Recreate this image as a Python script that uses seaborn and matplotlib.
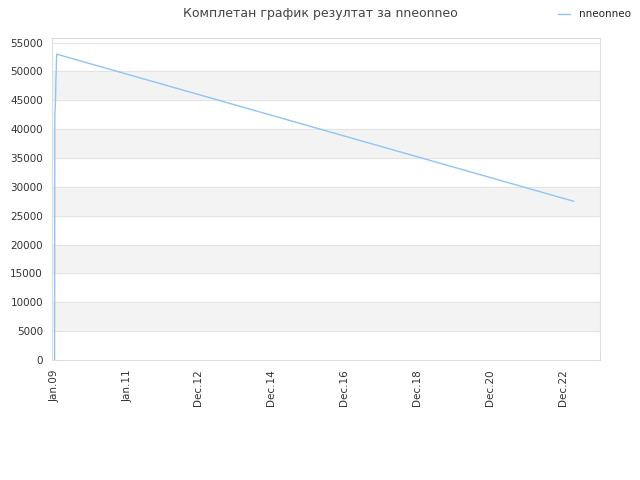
import matplotlib
matplotlib.use("Agg")
import matplotlib.pyplot as plt
import seaborn as sns
import pandas as pd

dates = ["2008-12-28", "2008-12-30", "2009-01-02", "2009-01-06", "2009-01-10", "2009-01-18", "2023-03-18"]
values = [0, 42000, 43500, 45000, 48500, 53000, 27500]
tick_dates = ["2009-01-01", "2011-01-01", "2012-12-01", "2014-12-01", "2016-12-01", "2018-12-01", "2020-12-01", "2022-12-01"]
tick_labels = ["Jan.09", "Jan.11", "Dec.12", "Dec.14", "Dec.16", "Dec.18", "Dec.20", "Dec.22"]

df = pd.DataFrame({"date": pd.to_datetime(dates), "value": values})

sns.set_style("white")
fig = plt.figure(figsize=(6.4, 4.8), dpi=100)
ax = fig.add_axes([52/640, 1-360/480, 548/640, 322/480])
for lo in range(5000, 55000, 10000):
    ax.axhspan(lo, lo+5000, color="#f3f3f3", zorder=0)
for y in range(0, 55001, 5000):
    ax.axhline(y, color="#e0e0e0", lw=0.6, zorder=0.5)
sns.lineplot(data=df, x="date", y="value", ax=ax, color="#90c4f5", lw=1, label="nneonneo", legend=False)
ax.set_xlim(pd.Timestamp("2008-12-02"), pd.Timestamp("2023-12-05"))
ax.set_ylim(0, 55800)
ax.set_yticks(range(0, 55001, 5000))
ax.set_xticks(pd.to_datetime(tick_dates))
ax.set_xticklabels(tick_labels, rotation=90)
ax.tick_params(labelsize=7.5, colors="#333333", length=3)
ax.set_xlabel(""); ax.set_ylabel("")
for s in ax.spines.values():
    s.set_color("#dddddd")
fig.suptitle("Комплетан график резултат за nneonneo", x=0.5, y=0.985, fontsize=9, color="#444444")
fig.legend(loc="upper right", bbox_to_anchor=(1.0, 1.0), frameon=False, fontsize=7.5, handlelength=1.2)
fig.savefig("out.png", dpi=100)
